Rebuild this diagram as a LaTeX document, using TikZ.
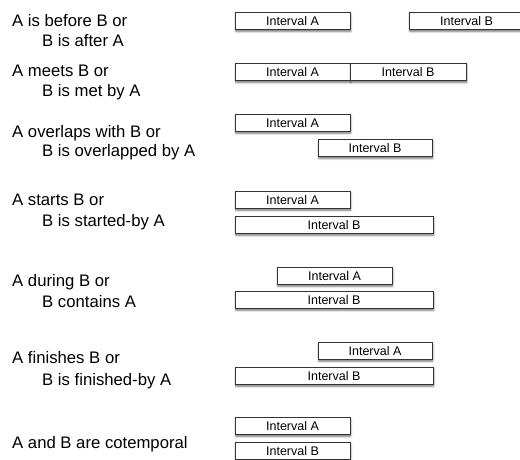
\documentclass[tikz,border=0pt]{standalone}
\usepackage{fontspec}
\setmainfont{Liberation Sans}
\usetikzlibrary{shadows.blur}
\tikzset{
  ivbox/.style={draw=black!80, line width=0.7pt, fill=white, inner sep=0pt,
    minimum height=17.5pt, text height=9pt, text depth=0pt,
    font=\fontsize{12.5pt}{14pt}\selectfont,
    blur shadow={shadow xshift=0.8pt, shadow yshift=-1.8pt, shadow blur radius=1.8pt, shadow blur steps=6, shadow opacity=55}},
  lbl/.style={anchor=base west, inner sep=0pt, font=\fontsize{16.7pt}{19pt}\selectfont}
}
\newcommand{\ivbox}[6]{% name, x1, x2, y1, y2, text
  \node[ivbox, minimum width={(#3-#2)*1pt}] (#1) at ({(#2+#3)/2}, {-(#4+#5)/2}) {#6};}
\begin{document}
\begin{tikzpicture}[x=1pt, y=1pt]
\useasboundingbox (0,0) rectangle (520,-460);
% labels
\node[lbl] (t1a) at (12,-27) {A is before B or};
\node[lbl] (t1b) at (42,-47) {B is after A};
\node[lbl] (t2a) at (12,-77) {A meets B or};
\node[lbl] (t2b) at (42,-97) {B is met by A};
\node[lbl] (t3a) at (12,-137) {A overlaps with B or};
\node[lbl] (t3b) at (42,-157) {B is overlapped by A};
\node[lbl] (t4a) at (12,-205) {A starts B or};
\node[lbl] (t4b) at (42,-226) {B is started-by A};
\node[lbl] (t5a) at (12,-286) {A during B or};
\node[lbl] (t5b) at (42,-307) {B contains A};
\node[lbl] (t6a) at (12,-363) {A finishes B or};
\node[lbl] (t6b) at (42,-385) {B is finished-by A};
\node[lbl] (t7a) at (12,-448) {A and B are cotemporal};
% boxes
\ivbox{a1}{235}{350}{12}{30}{Interval A}
\ivbox{b1}{409}{524}{12}{30}{Interval B}
\ivbox{a2}{235}{350}{63}{81}{Interval A}
\ivbox{b2}{350}{466}{63}{81}{Interval B}
\ivbox{a3}{235}{350}{114}{131.5}{Interval A}
\ivbox{b3}{318}{432}{139}{157}{Interval B}
\ivbox{a4}{235}{350}{191}{208.5}{Interval A}
\ivbox{b4}{235}{433}{216}{233.5}{Interval B}
\ivbox{a5}{277}{392}{267}{284.5}{Interval A}
\ivbox{b5}{235}{433}{291}{308.5}{Interval B}
\ivbox{a6}{318}{432}{342}{359.5}{Interval A}
\ivbox{b6}{235}{433}{367}{384.5}{Interval B}
\ivbox{a7}{235}{350}{417}{435}{Interval A}
\ivbox{b7}{235}{350}{442}{460}{Interval B}
\end{tikzpicture}
\end{document}
